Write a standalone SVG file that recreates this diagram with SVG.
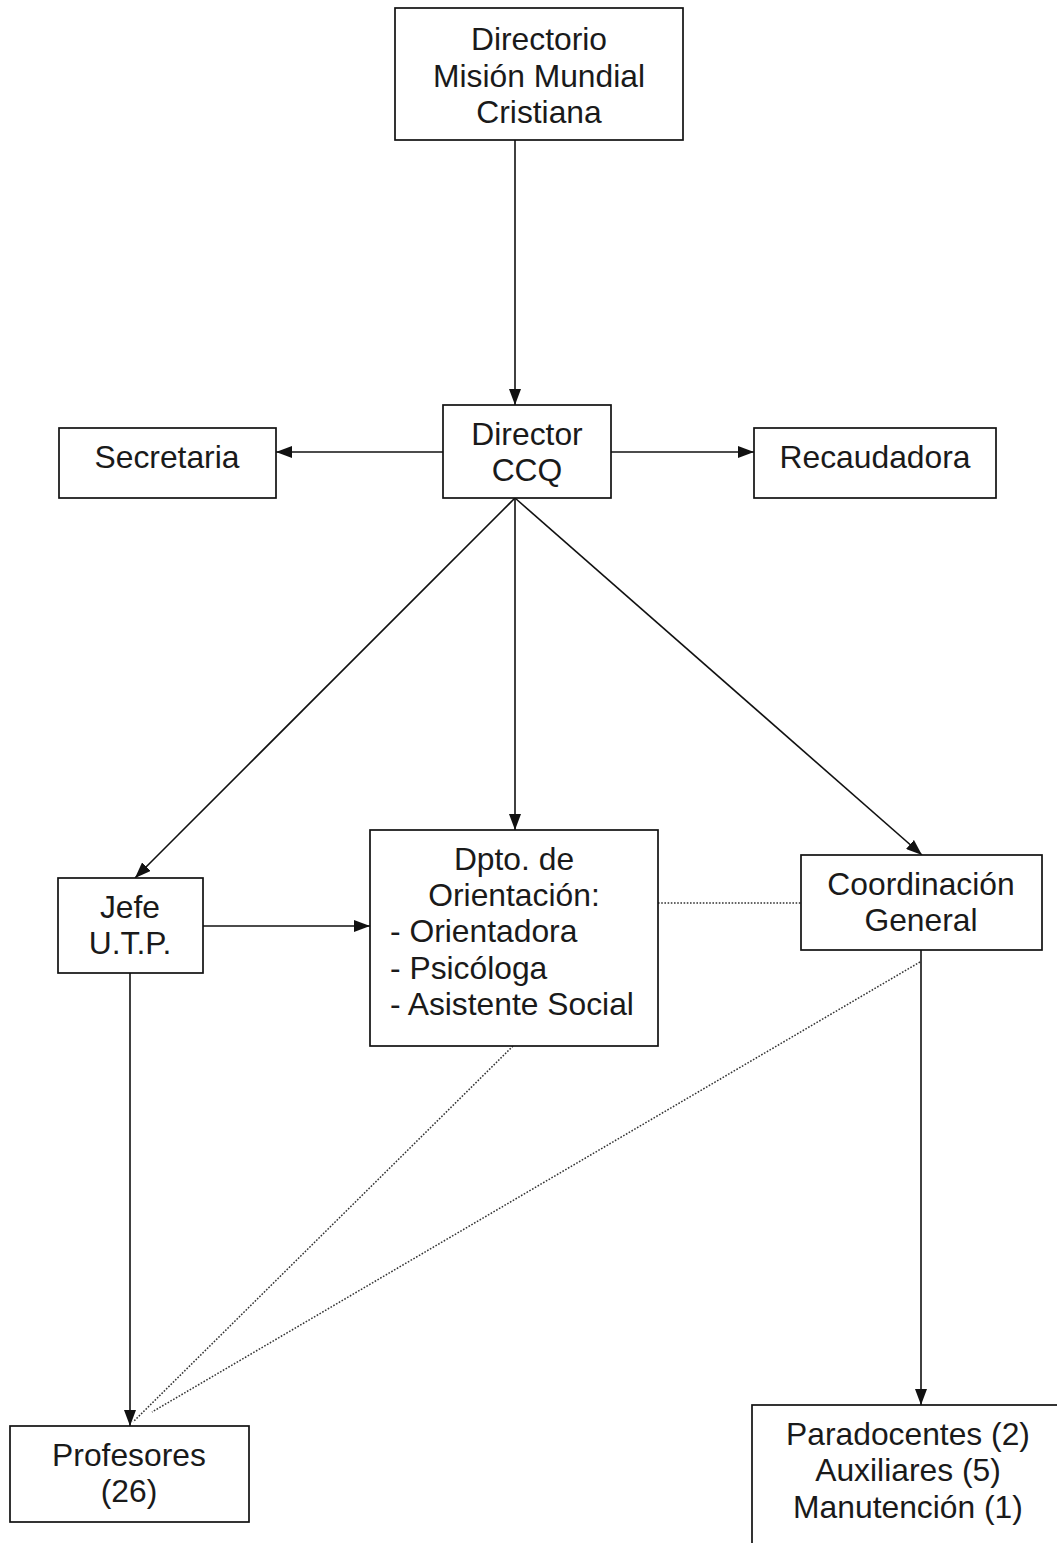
<svg xmlns="http://www.w3.org/2000/svg" width="1057" height="1543" viewBox="0 0 1057 1543">
<style>
.box{fill:#fff;stroke:#111;stroke-width:1.7}
.t{font-family:"Liberation Sans",Arial,sans-serif;font-size:31.8px;fill:#1a1a1a;text-anchor:middle}
.l{text-anchor:start}
.c{stroke:#111;stroke-width:1.6;fill:none}
.d{stroke:#333;stroke-width:1.5;fill:none;stroke-dasharray:1.6 1.6}
</style>
<defs>
<marker id="ah" viewBox="0 0 16 12" refX="16" refY="6" markerWidth="16" markerHeight="12" markerUnits="userSpaceOnUse" orient="auto">
<path d="M0,0 L16,6 L0,12 Z" fill="#111"/>
</marker>
</defs>
<rect width="1057" height="1543" fill="#fff"/>
<g id="connectors">
<line class="c" x1="515" y1="140" x2="515" y2="405" marker-end="url(#ah)"/>
<line class="c" x1="443" y1="452" x2="276" y2="452" marker-end="url(#ah)"/>
<line class="c" x1="611" y1="452" x2="754" y2="452" marker-end="url(#ah)"/>
<line class="c" x1="515" y1="498" x2="135" y2="878" marker-end="url(#ah)"/>
<line class="c" x1="515" y1="498" x2="515" y2="830" marker-end="url(#ah)"/>
<line class="c" x1="515" y1="498" x2="922" y2="855" marker-end="url(#ah)"/>
<line class="c" x1="203" y1="926" x2="370" y2="926" marker-end="url(#ah)"/>
<line class="d" x1="658" y1="903" x2="801" y2="903"/>
<line class="c" x1="130" y1="973" x2="130" y2="1426" marker-end="url(#ah)"/>
<line class="d" x1="513" y1="1046" x2="133" y2="1422"/>
<line class="d" x1="920" y1="962" x2="152" y2="1412"/>
<line class="c" x1="921" y1="950" x2="921" y2="1405" marker-end="url(#ah)"/>
</g>
<g id="directorio">
<rect class="box" x="395" y="8" width="288" height="132"/>
<text class="t" x="539" y="50">Directorio</text>
<text class="t" x="539" y="87">Misión Mundial</text>
<text class="t" x="539" y="123">Cristiana</text>
</g>
<g id="director">
<rect class="box" x="443" y="405" width="168" height="93"/>
<text class="t" x="527" y="445">Director</text>
<text class="t" x="527" y="481">CCQ</text>
</g>
<g id="secretaria">
<rect class="box" x="59" y="428" width="217" height="70"/>
<text class="t" x="167" y="468">Secretaria</text>
</g>
<g id="recaudadora">
<rect class="box" x="754" y="428" width="242" height="70"/>
<text class="t" x="875" y="468">Recaudadora</text>
</g>
<g id="jefe">
<rect class="box" x="58" y="878" width="145" height="95"/>
<text class="t" x="130" y="918">Jefe</text>
<text class="t" x="130" y="954">U.T.P.</text>
</g>
<g id="dpto">
<rect class="box" x="370" y="830" width="288" height="216"/>
<text class="t" x="514" y="870">Dpto. de</text>
<text class="t" x="514" y="906">Orientación:</text>
<text class="t l" x="390" y="942">- Orientadora</text>
<text class="t l" x="390" y="979">- Psicóloga</text>
<text class="t l" x="390" y="1015">- Asistente Social</text>
</g>
<g id="coordinacion">
<rect class="box" x="801" y="855" width="241" height="95"/>
<text class="t" x="921" y="895">Coordinación</text>
<text class="t" x="921" y="931">General</text>
</g>
<g id="profesores">
<rect class="box" x="10" y="1426" width="239" height="96"/>
<text class="t" x="129" y="1466">Profesores</text>
<text class="t" x="129" y="1502">(26)</text>
</g>
<g id="paradocentes">
<rect class="box" x="752" y="1405" width="320" height="150"/>
<text class="t" x="908" y="1445">Paradocentes (2)</text>
<text class="t" x="908" y="1481">Auxiliares (5)</text>
<text class="t" x="908" y="1518">Manutención (1)</text>
</g>
</svg>
